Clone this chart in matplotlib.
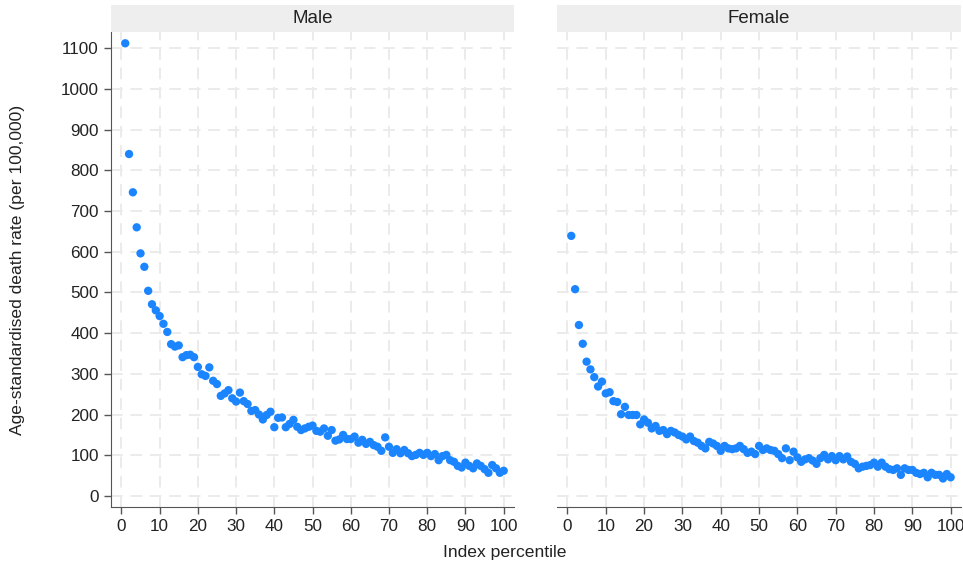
import matplotlib
matplotlib.use("Agg")
import matplotlib.pyplot as plt
from matplotlib.patches import Rectangle

plt.rcParams['font.family'] = ['Liberation Sans', 'DejaVu Sans']

percentile = list(range(1, 101))
male = [1112, 840, 746, 660, 596, 563, 504, 471, 456, 442,
        423, 403, 373, 367, 370, 341, 346, 347, 341, 317,
        299, 295, 316, 283, 275, 246, 252, 260, 240, 232,
        254, 233, 226, 209, 211, 200, 188, 199, 207, 169,
        192, 193, 169, 177, 187, 170, 162, 166, 170, 173,
        160, 158, 166, 148, 162, 136, 139, 150, 140, 140,
        146, 131, 138, 128, 133, 125, 121, 111, 144, 121,
        106, 115, 105, 113, 105, 98, 101, 106, 101, 106,
        98, 103, 88, 98, 101, 88, 84, 74, 70, 82,
        74, 68, 80, 74, 66, 57, 76, 68, 57, 62]
female = [639, 508, 420, 374, 330, 311, 292, 269, 281, 252,
          255, 233, 231, 201, 219, 199, 199, 199, 176, 188,
          180, 166, 172, 160, 162, 152, 160, 156, 150, 146,
          139, 146, 135, 131, 123, 117, 133, 129, 123, 111,
          123, 117, 115, 117, 123, 115, 106, 109, 103, 123,
          113, 117, 113, 111, 103, 93, 117, 88, 109, 95,
          84, 90, 93, 87, 79, 93, 101, 90, 98, 88,
          98, 90, 97, 84, 79, 68, 72, 74, 76, 82,
          72, 82, 72, 66, 64, 68, 52, 68, 64, 64,
          57, 54, 57, 46, 57, 52, 52, 43, 54, 46]
panels = ["Male", "Female"]
xticks = list(range(0, 101, 10))
yticks = list(range(0, 1101, 100))

W, H = 963, 567
fig = plt.figure(figsize=(W / 100, H / 100), dpi=100)

def px(l, t, r, b):
    return [l / W, 1 - b / H, (r - l) / W, (b - t) / H]

axes_px = [(110.7, 32.3, 514, 507), (556.7, 32.3, 961, 507)]
color = '#1a85ff'
spine_c = '#555555'
grid_c = '#ebebeb'

for i, (name, data) in enumerate(zip(panels, [male, female])):
    l, t, r, b = axes_px[i]
    ax = fig.add_axes(px(l, t, r, b))
    ax.scatter(percentile, data, s=36, color=color, edgecolors='none', zorder=3)
    ax.set_xlim(-2.8, 102.7)
    ax.set_ylim(-27, 1139)
    ax.set_xticks(xticks)
    ax.set_yticks(yticks)
    ax.grid(True, color=grid_c, linestyle=(0, (6, 4)), linewidth=1.4)
    ax.set_axisbelow(True)
    for s in ['top', 'right']:
        ax.spines[s].set_visible(False)
    ax.spines['bottom'].set_color(spine_c)
    ax.spines['left'].set_color(spine_c)
    ax.tick_params(axis='both', colors=spine_c, labelcolor='#222222', labelsize=12.3,
                   length=5, width=1)
    if i == 1:
        ax.spines['left'].set_visible(False)
        ax.tick_params(axis='y', left=False, labelleft=False)
    # strip
    fig.add_artist(Rectangle(((l) / W, 1 - t / H), (r - l) / W, 27 / H,
                             transform=fig.transFigure, facecolor='#eeeeee',
                             edgecolor='none'))
    fig.text((l + r) / 2 / W, 1 - (t - 13.5) / H, name, ha='center', va='center',
             fontsize=13.5, color='#222222')

fig.text(18 / W, 1 - 270 / H, 'Age-standardised death rate (per 100,000)',
         rotation=90, ha='center', va='center', fontsize=12.6, color='#222222')
fig.text(505 / W, 1 - 552 / H, 'Index percentile', ha='center', va='center',
         fontsize=12.6, color='#222222')

fig.savefig('out.png', dpi=100)
